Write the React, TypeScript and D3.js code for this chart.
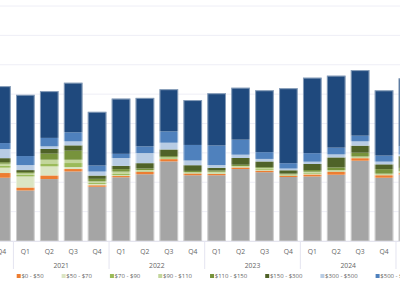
import React from 'react';
import * as d3 from 'd3';

// periods shown (chart is cropped on both sides)
const periodYears = [2020, 2021, 2021, 2021, 2021, 2022, 2022, 2022, 2022, 2023, 2023, 2023, 2023, 2024, 2024, 2024, 2024, 2025];
const periodQuarters = ['Q4', 'Q1', 'Q2', 'Q3', 'Q4', 'Q1', 'Q2', 'Q3', 'Q4', 'Q1', 'Q2', 'Q3', 'Q4', 'Q1', 'Q2', 'Q3', 'Q4', 'Q1'];

const seriesNames = ['Free', '$0 - $50', '$50 - $70', '$70 - $90', '$90 - $110', '$110 - $150', '$150 - $300', '$300 - $500', '$500 - $5000', '$5000+'];
const seriesColors = ['#a5a5a5', '#ed7d31', '#dbe5c3', '#9bbb59', '#c3d69b', '#77933c', '#4f6228', '#b8cce4', '#4f81bd', '#1f497d'];

// series values, bottom of the stack first
const free = [1077, 860, 1054, 1184, 923, 1085, 1136, 1355, 1119, 1119, 1225, 1171, 1089, 1099, 1128, 1367, 1077, 1128];
const p0to50 = [80, 51, 62, 41, 26, 21, 43, 39, 29, 22, 26, 26, 22, 34, 51, 43, 43, 29];
const p50to70 = [91, 188, 154, 34, 22, 14, 5, 5, 5, 12, 7, 9, 5, 12, 7, 5, 5, 5];
const p70to90 = [34, 26, 51, 68, 22, 22, 12, 12, 9, 12, 9, 17, 9, 17, 10, 9, 9, 9];
const p90to110 = [34, 26, 63, 56, 22, 39, 12, 12, 9, 14, 10, 21, 9, 17, 10, 14, 12, 17];
const p110to150 = [26, 22, 103, 154, 43, 43, 26, 22, 22, 22, 21, 14, 14, 29, 46, 65, 77, 56];
const p150to300 = [68, 34, 80, 91, 56, 56, 91, 113, 97, 46, 115, 96, 56, 103, 171, 120, 82, 200];
const p300to500 = [154, 85, 44, 68, 68, 132, 171, 115, 80, 46, 56, 43, 29, 39, 51, 73, 46, 29];
const p500to5000 = [103, 154, 144, 154, 103, 72, 115, 193, 265, 333, 256, 115, 91, 145, 115, 97, 103, 142];
const p5000plus = [969, 1042, 796, 844, 914, 940, 825, 718, 764, 889, 884, 1054, 1277, 1285, 1225, 1116, 1111, 1154];

const seriesValues = [free, p0to50, p50to70, p70to90, p90to110, p110to150, p150to300, p300to500, p500to5000, p5000plus];

const yTicks = [0, 500, 1000, 1500, 2000, 2500, 3000, 3500, 4000];

const W = 400;
const H = 283;
const FONT = "'Open Sans', 'Noto Sans', sans-serif";

const measure = (() => {
  let ctx: CanvasRenderingContext2D | null = null;
  return (txt: string, size: number) => {
    if (!ctx) ctx = document.createElement('canvas').getContext('2d');
    if (!ctx) return txt.length * size * 0.55;
    ctx.font = `${size}px ${FONT}`;
    return ctx.measureText(txt).width;
  };
})();

const App = () => {
  const keys = periodYears.map((y, i) => `${y} ${periodQuarters[i]}`);
  const rows = keys.map((k, i) => {
    const r: any = { key: k };
    seriesNames.forEach((s, j) => { r[s] = seriesValues[j][i]; });
    return r;
  });
  const stacked = d3.stack().keys(seriesNames)(rows);

  // band scale extends past the visible area on both sides
  const x = d3.scaleBand().domain(keys).range([-10.5, 419.9]).paddingInner(0.22).paddingOuter(0.11);
  const y = d3.scaleLinear().domain([0, 4000]).range([241, 6]);
  const gap = x.step() - x.bandwidth();

  // year groups that are fully shown
  const years = Array.from(new Set(periodYears)).filter(yr => periodYears.filter(v => v === yr).length === 4);

  // legend layout
  const legendFont = 6;
  let lx = 0;
  const legendItems = seriesNames.map((name, i) => {
    const item = { name, color: seriesColors[i], x: lx };
    lx += 4.7 + measure(name, legendFont) + 18;
    return item;
  });
  const legendShift = 16.7 - legendItems[1].x;

  return (
    <svg width={W} height={H} style={{ position: 'absolute', left: 0, top: 0, background: '#fff' }} fontFamily={FONT}>
      <g>
        {yTicks.map(t => (
          <line key={t} x1={0} x2={W} y1={y(t)} y2={y(t)} stroke="#eeeef6" strokeWidth={1} />
        ))}
      </g>
      <g>
        {stacked.map((layer, j) => (
          <g key={layer.key} fill={seriesColors[j]}>
            {layer.map((d, i) => (
              <rect key={i} x={x(keys[i])} width={x.bandwidth()} y={y(d[1])} height={Math.max(0, y(d[0]) - y(d[1]))} />
            ))}
          </g>
        ))}
        {rows.map((r, i) => {
          const total = d3.sum(seriesNames, s => r[s]);
          return (
            <rect key={i} x={(x(keys[i]) as number) + 0.5} width={x.bandwidth() - 1} y={y(total) + 0.5}
              height={y(0) - y(total) - 0.5} fill="none" stroke="#fff" strokeOpacity={0.45} strokeWidth={1} />
          );
        })}
      </g>
      <line x1={0} x2={W} y1={y(0) + 0.5} y2={y(0) + 0.5} stroke="#e4e4ee" />
      <g fontSize={6.8} fill="#666" textAnchor="middle">
        {keys.map((k, i) => (
          <text key={k} x={(x(k) as number) + x.bandwidth() / 2} y={254.3}>{periodQuarters[i]}</text>
        ))}
      </g>
      <g stroke="#e4e4f0">
        {keys.map((k, i) => periodQuarters[i] === 'Q1' ? (
          <line key={k} x1={(x(k) as number) - gap / 2} x2={(x(k) as number) - gap / 2} y1={241} y2={269} />
        ) : null)}
      </g>
      <g fontSize={6.8} fill="#666" textAnchor="middle">
        {years.map(yr => {
          const ks = keys.filter((_, i) => periodYears[i] === yr);
          const cx = ((x(ks[0]) as number) + (x(ks[ks.length - 1]) as number) + x.bandwidth()) / 2;
          return <text key={yr} x={cx} y={267.5}>{yr}</text>;
        })}
      </g>
      <g transform={`translate(${legendShift},0)`} fontSize={legendFont} fill="#666">
        {legendItems.map(it => (
          <g key={it.name} transform={`translate(${it.x},0)`}>
            <rect x={0} y={274} width={4} height={4} fill={it.color} />
            <text x={4.7} y={278.2}>{it.name}</text>
          </g>
        ))}
      </g>
    </svg>
  );
};

export default App;
